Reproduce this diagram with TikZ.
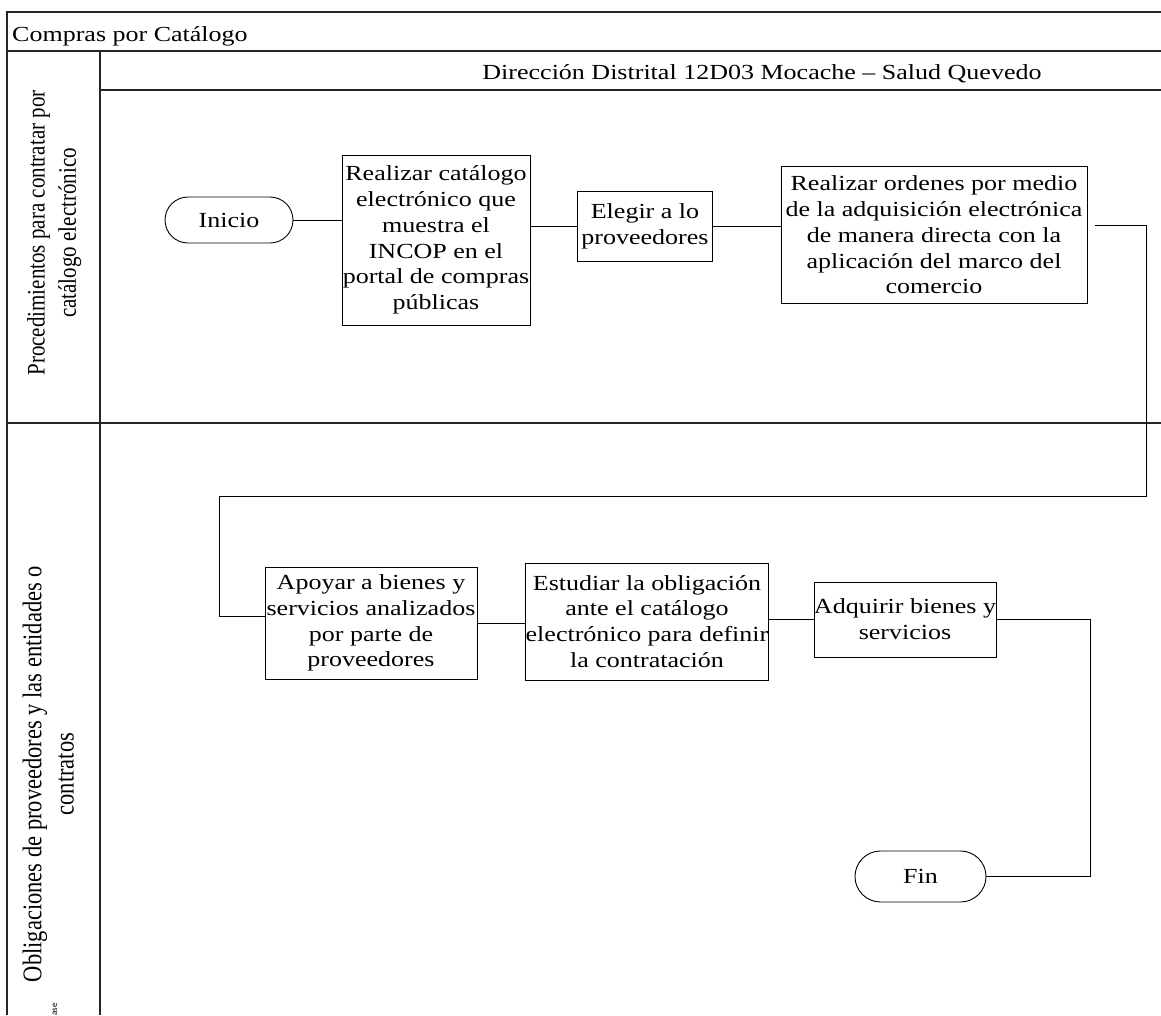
\documentclass[tikz,border=0pt]{standalone}
\usepackage{fontspec}
\setmainfont{Liberation Serif}[FakeStretch=1.21]
\newfontfamily\lanefont{Liberation Serif}
\newfontfamily\notefont{Carlito}
\usetikzlibrary{shapes.misc}
\begin{document}
\begin{tikzpicture}[x=1pt,y=-1pt,
  frame/.style={line width=1.2pt, draw=black!85},
  flow/.style={line width=0.9pt, draw=black},
  task/.style={draw, line width=0.9pt, align=center, inner sep=0pt,
    font=\fontsize{21.5}{25.8}\selectfont},
  term/.style={draw, rounded rectangle, line width=0.9pt, inner sep=0pt,
    font=\fontsize{21.5}{25.8}\selectfont},
  lane/.style={rotate=90, inner sep=0pt}
]
\useasboundingbox (0,0) rectangle (1161,1015);

% pool frame and lanes
\draw[frame] (1161,12) -- (7,12) -- (7,1015);
\draw[frame] (7,51) -- (1161,51);
\draw[frame] (100,51) -- (100,1015);
\draw[frame] (100,90) -- (1161,90);
\draw[frame] (7,423) -- (1161,423);

% headings
\node[anchor=base west, inner sep=0pt, font=\fontsize{21.5}{25.8}\selectfont] (pool) at (12,41) {Compras por Catálogo};
\node[anchor=base, inner sep=0pt, font=\fontsize{21.5}{25.8}\selectfont] (dept) at (762,79) {Dirección Distrital 12D03 Mocache – Salud Quevedo};

% lane titles
\node[lane] (lane1) at (54,233) {\scalebox{1}[1.2]{\lanefont\fontsize{21}{26}\selectfont
  \begin{tabular}{@{}c@{}}Procedimientos para contratar por\\catálogo electrónico\end{tabular}}};
\node[lane] (lane2) at (51,774) {\scalebox{1}[1.2]{\lanefont\fontsize{22.5}{27}\selectfont
  \begin{tabular}{@{}c@{}}Obligaciones de proveedores y las entidades o\\contratos\end{tabular}}};
\node[lane, anchor=west, font=\notefont\fontsize{9}{9}\selectfont] (note) at (55,1016) {ase};

% first lane
\node[term, minimum width=128pt, minimum height=46pt] (inicio) at (229,220) {Inicio};
\node[task, minimum width=188pt, minimum height=170pt] (catalogo) at (436,240)
  {Realizar catálogo\\electrónico que\\muestra el\\INCOP en el\\portal de compras\\públicas};
\node[task, minimum width=135pt, minimum height=70pt] (elegir) at (645,226)
  {Elegir a lo\\proveedores};
\node[task, minimum width=306pt, minimum height=137pt] (ordenes) at (934,235)
  {Realizar ordenes por medio\\de la adquisición electrónica\\de manera directa con la\\aplicación del marco del\\comercio};

% second lane
\node[task, minimum width=212pt, minimum height=112pt] (apoyar) at (371,623)
  {Apoyar a bienes y\\servicios analizados\\por parte de\\proveedores};
\node[task, minimum width=240pt, minimum height=117pt] (estudiar) at (647,621.5)
  {Estudiar la obligación\\ante el catálogo\\electrónico para definir\\la contratación};
\node[task, minimum width=182pt, minimum height=75pt] (adquirir) at (905,619.5)
  {Adquirir bienes y\\servicios};
\node[term, minimum width=131pt, minimum height=51pt] (fin) at (920.5,876.5) {Fin};

% bend points of the long connectors
\coordinate (bendA) at (1146,496);
\coordinate (bendB) at (219,496);
\coordinate (bendC) at (219,616);
\coordinate (bendD) at (1090,876.5);

% connectors
\draw[flow] (inicio.east) -- (inicio.east -| catalogo.west);
\draw[flow] (elegir.west -| catalogo.east) -- (elegir.west);
\draw[flow] (elegir.east) -- (elegir.east -| ordenes.west);
\draw[flow, shorten <=8pt] ([yshift=10pt]ordenes.east) -| (bendA) -- (bendB) -- (bendC) -- (apoyar.west |- bendC);
\draw[flow] (apoyar.east) -- (apoyar.east -| estudiar.west);
\draw[flow] (estudiar.east |- adquirir.west) -- (adquirir.west);
\draw[flow] (adquirir.east) -| (bendD) -- (fin.east);
\end{tikzpicture}
\end{document}
